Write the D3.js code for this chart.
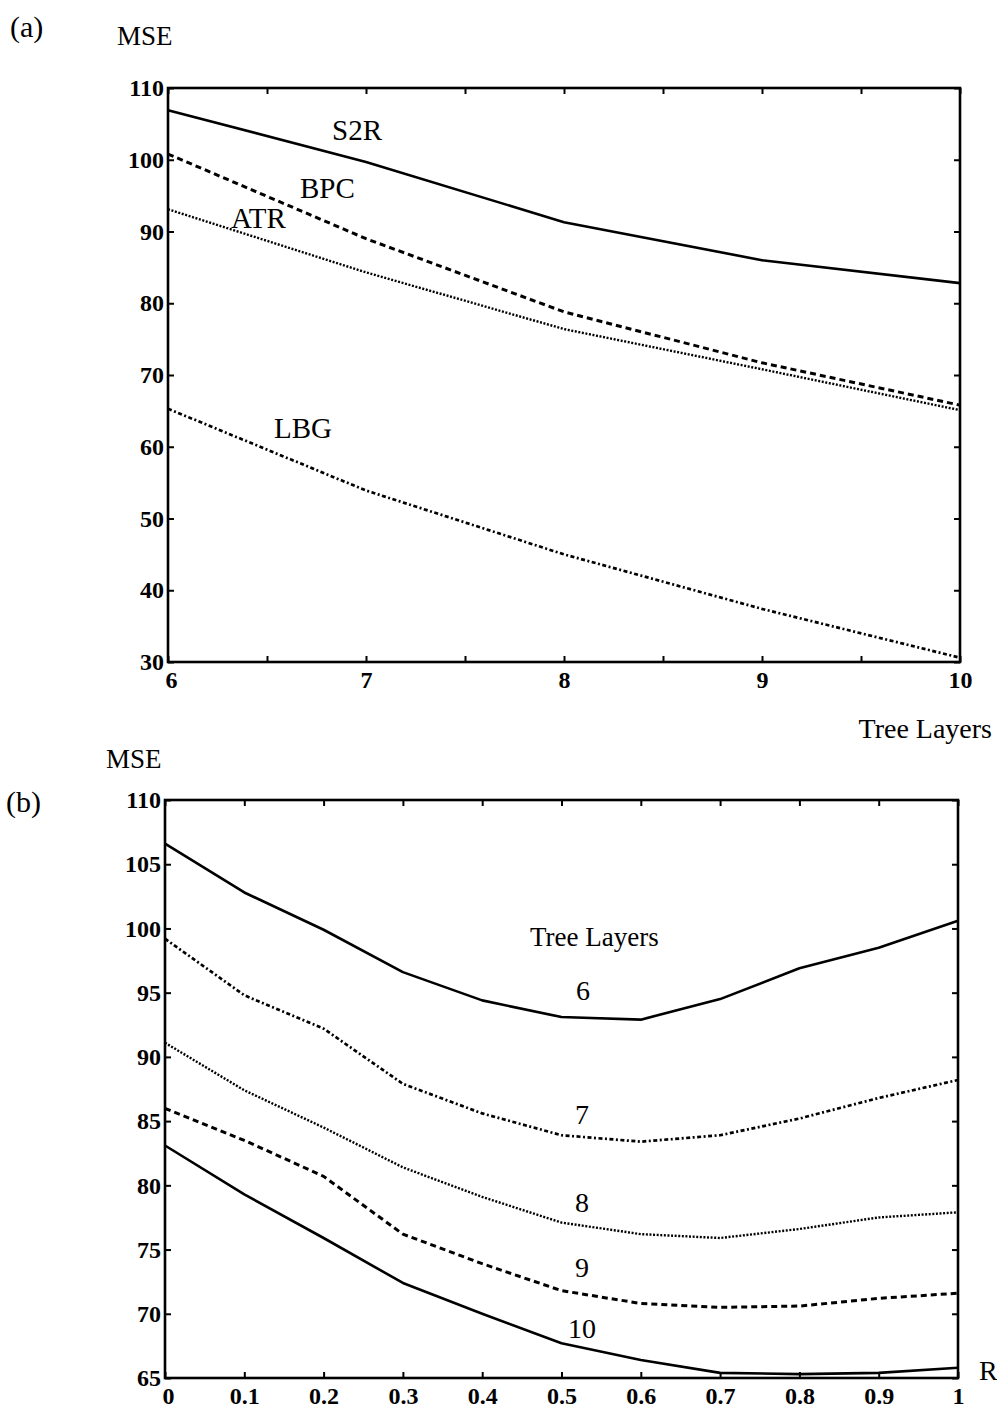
<!DOCTYPE html>
<html>
<head>
<meta charset="utf-8">
<script src="https://cdn.jsdelivr.net/npm/d3@7"></script>
<style>
  html, body { margin: 0; padding: 0; background: #fff; }
  svg { display: block; }
  text { font-family: "Liberation Serif", "DejaVu Serif", serif; fill: #000; }
  .tick text { font-weight: bold; font-size: 24px; }
</style>
</head>
<body>
<svg id="chart" width="997" height="1412"></svg>
<script>
// ---------- Data: panel (a) ----------
const treeLayers = [6, 7, 8, 9, 10];
const s2r = [106.9, 99.7, 91.3, 86.0, 82.8];
const bpc = [100.8, 89.0, 78.8, 71.7, 65.8];
const atr = [93.1, 84.3, 76.4, 70.8, 65.1];
const lbg = [65.3, 53.9, 45.0, 37.4, 30.6];
const aYTicks = [30, 40, 50, 60, 70, 80, 90, 100, 110];
const aXTicks = [6, 6.5, 7, 7.5, 8, 8.5, 9, 9.5, 10];
const aXLabels = [6, 7, 8, 9, 10];

// ---------- Data: panel (b) ----------
const rValues = [0, 0.1, 0.2, 0.3, 0.4, 0.5, 0.6, 0.7, 0.8, 0.9, 1];
const layer6 = [106.6, 102.8, 99.9, 96.6, 94.4, 93.1, 92.9, 94.5, 96.9, 98.5, 100.6];
const layer7 = [99.2, 94.8, 92.2, 87.9, 85.6, 83.9, 83.4, 83.9, 85.2, 86.8, 88.2];
const layer8 = [91.1, 87.4, 84.5, 81.4, 79.1, 77.1, 76.2, 75.9, 76.6, 77.5, 77.9];
const layer9 = [86.0, 83.5, 80.7, 76.2, 73.9, 71.8, 70.8, 70.5, 70.6, 71.2, 71.6];
const layer10 = [83.1, 79.3, 75.9, 72.4, 70.0, 67.7, 66.4, 65.4, 65.3, 65.4, 65.8];
const bYTicks = [65, 70, 75, 80, 85, 90, 95, 100, 105, 110];
const bXTicks = [0, 0.1, 0.2, 0.3, 0.4, 0.5, 0.6, 0.7, 0.8, 0.9, 1];

const svg = d3.select("#chart");

const styles = {
  solid:   { w: 2.6, dash: null },
  dashed:  { w: 3.0, dash: "6,4" },
  dotted:  { w: 2.4, dash: "2,1.6" },
  dashdot: { w: 2.7, dash: "4,2.5,2,2.5" }
};

function panel(cfg) {
  const x = d3.scaleLinear().domain(cfg.xDomain).range([cfg.left, cfg.right]);
  const y = d3.scaleLinear().domain(cfg.yDomain).range([cfg.bottom, cfg.top]);
  const g = svg.append("g");

  const left = g.append("g").attr("transform", `translate(${cfg.left},0)`)
    .call(d3.axisLeft(y).tickValues(cfg.yTicks).tickSize(-6).tickPadding(4).tickFormat(d3.format("d")));
  const right = g.append("g").attr("transform", `translate(${cfg.right},0)`)
    .call(d3.axisRight(y).tickValues(cfg.yTicks).tickSize(-6).tickFormat(""));
  const bottom = g.append("g").attr("transform", `translate(0,${cfg.bottom})`)
    .call(d3.axisBottom(x).tickValues(cfg.xTicks).tickSize(-6).tickPadding(8)
      .tickFormat(d => cfg.xLabel(d)));
  const top = g.append("g").attr("transform", `translate(0,${cfg.top})`)
    .call(d3.axisTop(x).tickValues(cfg.xTicks).tickSize(-6).tickFormat(""));
  [left, right, bottom, top].forEach(a => {
    a.select(".domain").remove();
    a.selectAll(".tick line").attr("stroke", "#000").attr("stroke-width", 2);
  });
  bottom.selectAll(".tick text").attr("dy", "0.75em");
  // first x label nudged right so it clears the lowest y label, as in the reference
  bottom.selectAll(".tick text").filter((d, i) => i === 0).attr("dx", 3);

  g.append("rect")
    .attr("x", cfg.left).attr("y", cfg.top)
    .attr("width", cfg.right - cfg.left).attr("height", cfg.bottom - cfg.top)
    .attr("fill", "none").attr("stroke", "#000").attr("stroke-width", 2.6);

  const line = d3.line().x(d => x(d[0])).y(d => y(d[1]));
  cfg.series.forEach(s => {
    const st = styles[s.style];
    g.append("path")
      .datum(cfg.xs.map((v, i) => [v, s.values[i]]))
      .attr("d", line)
      .attr("fill", "none")
      .attr("stroke", "#000")
      .attr("stroke-width", st.w)
      .attr("stroke-dasharray", st.dash)
      .attr("stroke-linejoin", "round");
  });
  return { x, y, g };
}

// ---------- Panel (a) ----------
panel({
  left: 168, right: 960, top: 88, bottom: 662,
  xDomain: [6, 10], yDomain: [30, 110],
  xTicks: aXTicks, yTicks: aYTicks,
  xLabel: d => aXLabels.includes(d) ? String(d) : "",
  xs: treeLayers,
  series: [
    { values: s2r, style: "solid" },
    { values: bpc, style: "dashed" },
    { values: atr, style: "dotted" },
    { values: lbg, style: "dashdot" }
  ]
});

// ---------- Panel (b) ----------
panel({
  left: 165, right: 958, top: 800, bottom: 1378,
  xDomain: [0, 1], yDomain: [65, 110],
  xTicks: bXTicks, yTicks: bYTicks,
  xLabel: d => d === 0 ? "0" : (d === 1 ? "1" : d3.format(".1f")(d)),
  xs: rValues,
  series: [
    { values: layer6, style: "solid" },
    { values: layer7, style: "dashdot" },
    { values: layer8, style: "dotted" },
    { values: layer9, style: "dashed" },
    { values: layer10, style: "solid" }
  ]
});

// ---------- Text labels ----------
function label(txt, x, y, size, anchor) {
  svg.append("text").attr("x", x).attr("y", y)
    .attr("font-size", size).attr("text-anchor", anchor || "start").text(txt);
}
label("(a)", 10, 37, 30);
label("MSE", 117, 45, 27);
label("S2R", 332, 140, 29);
label("BPC", 300, 198, 29);
label("ATR", 231, 228, 29);
label("LBG", 274, 438, 29);
label("Tree Layers", 992, 738, 28, "end");

label("(b)", 6, 812, 30);
label("MSE", 106, 768, 27);
label("Tree Layers", 530, 946, 27);
label("6", 583, 1000, 28, "middle");
label("7", 582, 1124, 28, "middle");
label("8", 582, 1212, 28, "middle");
label("9", 582, 1277, 28, "middle");
label("10", 582, 1338, 28, "middle");
label("R", 979, 1380, 28);
</script>
</body>
</html>
